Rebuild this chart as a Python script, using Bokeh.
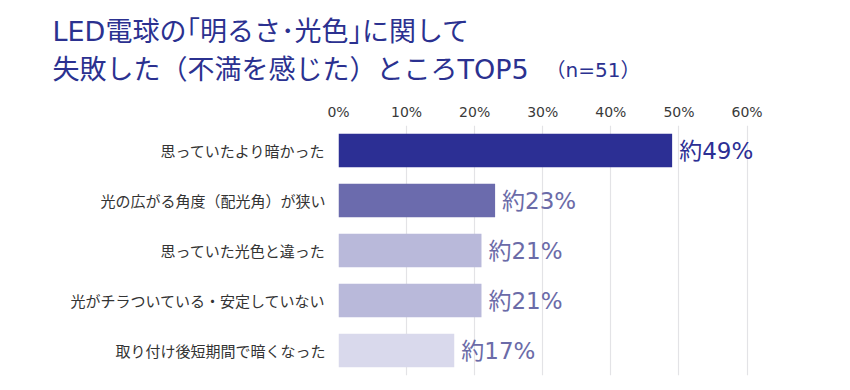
from bokeh.plotting import figure
from bokeh.layouts import column
from bokeh.models import ColumnDataSource, Range1d, FactorRange, FixedTicker, PrintfTickFormatter, LinearAxis
from bokeh.core.properties import value
from bokeh.embed import file_html
from bokeh.resources import INLINE

categories = ["思っていたより暗かった", "光の広がる角度（配光角）が狭い", "思っていた光色と違った",
              "光がチラついている・安定していない", "取り付け後短期間で暗くなった"]
values = [49, 23, 21, 21, 17]
bar_colors = ["#2c2f94", "#6b6bad", "#b9b9da", "#b9b9da", "#d9d9ec"]
label_colors = ["#2c2f94", "#6b6ba8", "#6b6ba8", "#6b6ba8", "#6b6ba8"]
tick_values = [0, 10, 20, 30, 40, 50, 60]
title_line1 = "LED電球の｢明るさ･光色｣に関して"
title_line2 = "失敗した（不満を感じた）ところTOP5"
sample_note = "（n=51）"

JP = "'Noto Sans CJK JP'"
NUM = "'DejaVu Sans', 'Noto Sans CJK JP'"
TITLE_COLOR = "#2b3190"

# ---------- title strip ----------
t = figure(width=834, height=90, output_backend="svg", toolbar_location=None,
           x_range=Range1d(0, 834), y_range=Range1d(90, 0),
           x_axis_location=None, y_axis_location=None,
           min_border_left=0, min_border_right=0, min_border_top=0, min_border_bottom=0)
t.frame_align = False
t.outline_line_color = None
t.grid.visible = False
t.text(x=[52], y=[31], text=[title_line1], text_font=value(NUM), text_font_size="27px",
       text_color=TITLE_COLOR, text_baseline="middle")
t.text(x=[52], y=[69], text=[title_line2], text_font=value(NUM), text_font_size="27px",
       text_color=TITLE_COLOR, text_baseline="middle")
t.text(x=[545], y=[69], text=[sample_note], text_font=value(NUM), text_font_size="20px",
       text_color=TITLE_COLOR, text_baseline="middle")

# ---------- bar chart ----------
src = ColumnDataSource(dict(
    cat=categories, v=values, c=bar_colors, lc=label_colors,
    lbl=[f"約{v}%" for v in values],
))

p = figure(width=834, height=292, output_backend="svg", toolbar_location=None,
           y_range=FactorRange(factors=list(reversed(categories)), range_padding=0),
           x_range=Range1d(0, 68), x_axis_location=None,
           min_border_left=338, min_border_right=33, min_border_top=35, min_border_bottom=7)
p.frame_align = False
p.outline_line_color = None

p.hbar(y="cat", right="v", left=0, height=0.67, fill_color="c", line_color=None, source=src)
p.text(x="v", y="cat", text="lbl", x_offset=7, text_baseline="middle", text_align="left",
       text_color="lc", text_font=value(NUM), text_font_size="23px", source=src)

xa = LinearAxis(ticker=FixedTicker(ticks=tick_values), formatter=PrintfTickFormatter(format="%d%%"))
xa.axis_line_color = None
xa.major_tick_line_color = None
xa.minor_tick_line_color = None
xa.major_label_text_font = NUM
xa.major_label_text_font_size = "14px"
xa.major_label_text_color = "#3a3a3a"
xa.major_label_standoff = 0
p.add_layout(xa, "above")

p.xgrid.ticker = FixedTicker(ticks=tick_values)
p.xgrid.grid_line_color = "#e3e3e6"
p.xgrid.grid_line_width = 1.2
p.ygrid.grid_line_color = None

ya = p.yaxis[0]
ya.axis_line_color = None
ya.major_tick_line_color = None
ya.minor_tick_line_color = None
ya.major_label_text_font = JP
ya.major_label_text_font_size = "15px"
ya.major_label_text_color = "#333333"
ya.major_label_standoff = 7

layout = column(t, p)
open("out.html", "w").write(file_html(layout, INLINE))
